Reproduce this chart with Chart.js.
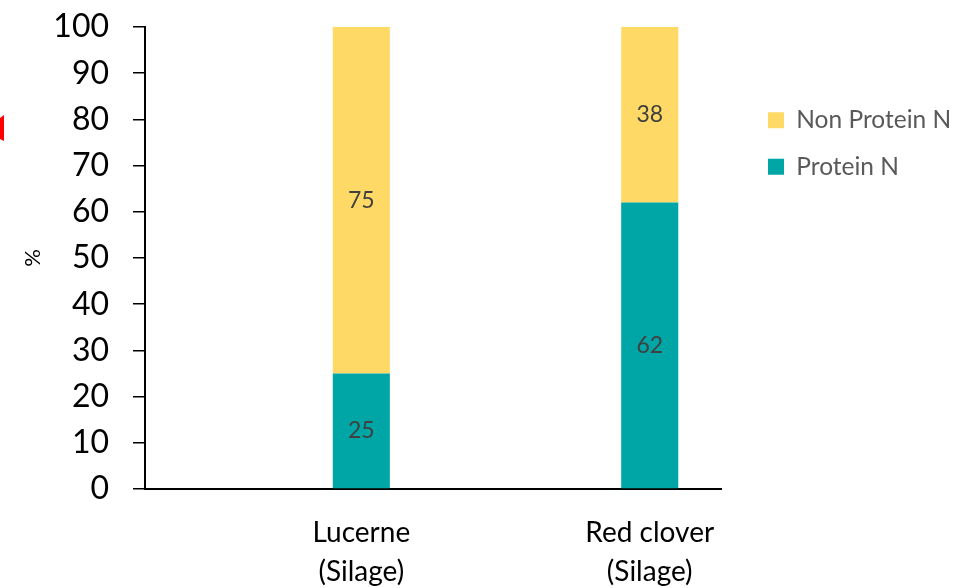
<!DOCTYPE html>
<html>
<head>
<meta charset="utf-8">
<script src="https://cdn.jsdelivr.net/npm/chart.js@4/dist/chart.umd.min.js"></script>
<style>
  html, body { margin: 0; padding: 0; background: #ffffff; }
  #wrap { width: 955px; height: 588px; position: relative; }
</style>
</head>
<body>
<div id="wrap"><canvas id="c"></canvas></div>
<script>
// ---- data ----
const categories = [['Lucerne', '(Silage)'], ['Red clover', '(Silage)']];
const proteinN = [25, 62];
const nonProteinN = [75, 38];
const yTicks = [0, 10, 20, 30, 40, 50, 60, 70, 80, 90, 100];
const seriesNames = ['Protein N', 'Non Protein N'];

// Categories sit in every second slot of the axis (empty slot before each)
const slotLabels = [];
const slotProtein = [];
const slotNonProtein = [];
categories.forEach((c, i) => {
  slotLabels.push(''); slotProtein.push(null); slotNonProtein.push(null);
  slotLabels.push(c); slotProtein.push(proteinN[i]); slotNonProtein.push(nonProteinN[i]);
});

const FONT = 'Lato, "Open Sans", sans-serif';

const valueLabels = {
  id: 'valueLabels',
  afterDatasetsDraw(chart) {
    const ctx = chart.ctx;
    ctx.save();
    ctx.font = '23px ' + FONT;
    ctx.fillStyle = '#404040';
    ctx.textAlign = 'center';
    ctx.textBaseline = 'middle';
    chart.data.datasets.forEach((ds, di) => {
      const meta = chart.getDatasetMeta(di);
      meta.data.forEach((el, i) => {
        const v = ds.data[i];
        if (v === null || v === undefined) return;
        ctx.fillText(String(v), el.x, (el.y + el.base) / 2);
      });
    });
    ctx.restore();
  }
};

const legendPlace = {
  id: 'legendPlace',
  afterLayout(chart) {
    const lg = chart.legend;
    const dx = 746 - lg.left;
    lg.left += dx; lg.right += dx;
    const dy = 86 - lg.top;
    lg.top += dy; lg.bottom += dy;
  }
};

const redMark = {
  id: 'redMark',
  afterDraw(chart) {
    const ctx = chart.ctx;
    ctx.save();
    ctx.fillStyle = '#ff0000';
    ctx.beginPath();
    ctx.moveTo(0, 118);
    ctx.lineTo(4, 115);
    ctx.lineTo(4, 141);
    ctx.lineTo(0, 139);
    ctx.closePath();
    ctx.fill();
    ctx.restore();
  }
};

new Chart(document.getElementById('c'), {
  type: 'bar',
  data: {
    labels: slotLabels,
    datasets: [
      { label: seriesNames[0], data: slotProtein, backgroundColor: '#00A5A6', borderWidth: 0 },
      { label: seriesNames[1], data: slotNonProtein, backgroundColor: '#FFD966', borderWidth: 0 }
    ]
  },
  options: {
    responsive: true,
    maintainAspectRatio: false,
    animation: false,
    layout: { padding: { top: 27, right: 18, bottom: 0, left: 0 } },
    datasets: { bar: { categoryPercentage: 1, barPercentage: 57 / 144 } },
    scales: {
      x: {
        stacked: true,
        grid: { display: false, drawTicks: false, drawOnChartArea: false },
        border: { display: true, color: '#000000', width: 2 },
        ticks: {
          color: '#000000',
          font: { family: FONT, size: 28, lineHeight: 1.39 },
          padding: 25,
          autoSkip: false,
          maxRotation: 0
        },
        afterFit(s) { s.height = 99; }
      },
      y: {
        stacked: true,
        min: 0,
        max: 100,
        afterBuildTicks(s) { s.ticks = yTicks.map(v => ({ value: v })); },
        grid: { drawOnChartArea: false, drawTicks: true, tickLength: 12, color: '#000000', lineWidth: 1.5 },
        border: { display: true, color: '#000000', width: 2 },
        ticks: { color: '#000000', font: { family: FONT, size: 32 }, padding: 24 },
        title: { display: true, text: '%', color: '#000000', font: { family: FONT, size: 22 }, padding: { top: 20, bottom: 0 } },
        afterFit(s) { s.width = 145; s.paddingTop = 0; s.paddingBottom = 0; }
      }
    },
    plugins: {
      legend: {
        position: 'right',
        align: 'start',
        reverse: true,
        labels: {
          boxWidth: 16,
          boxHeight: 16,
          padding: 22,
          color: '#595959',
          font: { family: FONT, size: 24.5 }
        }
      },
      tooltip: { enabled: false }
    }
  },
  plugins: [valueLabels, legendPlace, redMark]
});
</script>
</body>
</html>
